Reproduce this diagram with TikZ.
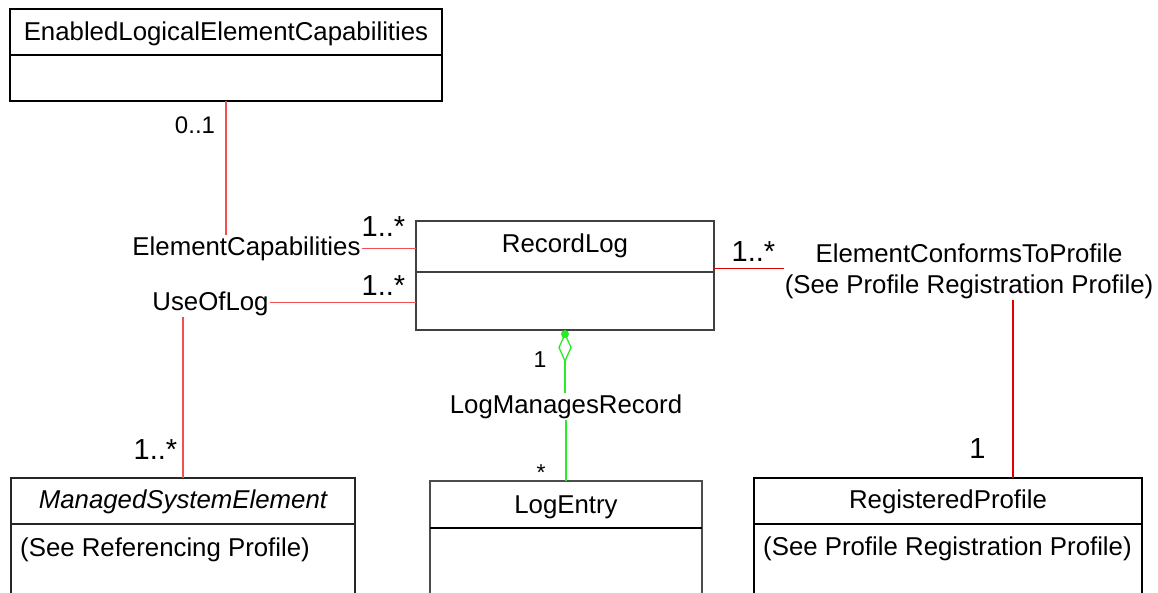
\documentclass[tikz,border=0pt]{standalone}
\usepackage{fontspec}
\setmainfont{Liberation Sans}
\definecolor{redA}{RGB}{240,80,80}
\definecolor{redB}{RGB}{225,0,0}
\definecolor{lgreen}{RGB}{40,235,40}
\begin{document}
\begin{tikzpicture}[x=1pt,y=-1pt,
  cls/.style={draw=#1, line width=1.2pt, anchor=north west, inner sep=0pt, outer sep=0pt},
  cls/.default=black,
  txt/.style={font=\fontsize{25.8}{31}\selectfont, inner sep=1pt, anchor=base},
  mult/.style={font=\fontsize{29}{34}\selectfont, inner sep=1pt, anchor=base},
  multsm/.style={font=\fontsize{24}{29}\selectfont, inner sep=1pt, anchor=base},
  multxs/.style={font=\fontsize{23}{27}\selectfont, inner sep=1pt, anchor=base},
  assocA/.style={draw=redA, line width=1.4pt},
  assocB/.style={draw=redB, line width=1.4pt},
  aggr/.style={draw=lgreen, line width=1.3pt}]
\useasboundingbox (0,0) rectangle (1158,592);
\clip (0,0) rectangle (1158,592);
\fill[white] (0,0) rectangle (1158,592);

% class boxes
\node[cls, minimum width=432pt, minimum height=92pt] (elec) at (10,9) {};
\node[cls=black!75, minimum width=298pt, minimum height=109pt] (rlog) at (416,221) {};
\node[cls=black!85, minimum width=344pt, minimum height=160pt] (mse) at (11,478) {};
\node[cls=black!70, minimum width=272pt, minimum height=160pt] (lent) at (430,481) {};
\node[cls, minimum width=388pt, minimum height=160pt] (rprof) at (754,478) {};

% dividers
\draw[line width=1.2pt] (elec.west |- 0,55) -- (elec.east |- 0,55);
\draw[line width=1.2pt, black!75] (rlog.west |- 0,272) -- (rlog.east |- 0,272);
\draw[line width=1.2pt, black!85] (mse.west |- 0,524) -- (mse.east |- 0,524);
\draw[line width=1.2pt] (lent.west |- 0,528) -- (lent.east |- 0,528);
\draw[line width=1.2pt] (rprof.west |- 0,524) -- (rprof.east |- 0,524);

% class texts
\node[txt] (elecT) at (226,40) {EnabledLogicalElementCapabilities};
\node[txt] (rlogT) at (565,252) {RecordLog};
\node[txt] (mseT) at (183,508) {\itshape ManagedSystemElement};
\node[txt, anchor=base west] (mseA) at (19,556) {(See Referencing Profile)};
\node[txt] (lentT) at (566,513) {LogEntry};
\node[txt] (rprofT) at (948,508) {RegisteredProfile};
\node[txt, anchor=base west] (rprofA) at (762,555) {(See Profile Registration Profile)};

% association labels
\node[txt] (ecap) at (246.5,255) {ElementCapabilities};
\node[txt] (uol) at (210.5,310) {UseOfLog};
\node[txt] (ectp1) at (969,262) {ElementConformsToProfile};
\node[txt] (ectp2) at (969,293) {(See Profile Registration Profile)};
\node[txt] (lmr) at (566,413) {LogManagesRecord};

% multiplicities
\node[multsm] (m01) at (195,133) {0..1};
\node[mult] (m1a) at (383.5,236) {1..*};
\node[mult] (m1b) at (383.5,295) {1..*};
\node[mult] (m1c) at (753.5,261) {1..*};
\node[mult] (m1d) at (155.5,459) {1..*};
\node[mult] (m1e) at (977.5,458) {1};
\node[multxs] (m1f) at (540,367) {1};
\node[multxs] (m1g) at (541,480) {*};

% connectors
\coordinate (rpa) at ([xshift=65pt]rprof.north);
\draw[assocA] (elec.south) -- (elec.south |- ecap.north);
\draw[assocA] (ecap.east |- 0,248.5) -- (rlog.west |- 0,248.5);
\draw[assocA] (uol.east |- 0,302.5) -- (rlog.west |- 0,302.5);
\draw[assocA] (uol.south -| mse.north) -- (mse.north);
\draw[assocB] (rlog.east |- 0,268.5) -- (ectp2.west |- 0,268.5);
\draw[assocB] (ectp2.south -| rpa) -- (rpa);

% aggregation
\coordinate (dtop) at ([yshift=-4pt]rlog.south);
\draw[aggr, fill=white] (dtop) -- ++(6,13.5) coordinate (dr) -- ++(-6,13.5) coordinate (dbot) -- ++(-6,-13.5) -- cycle;
\fill[lgreen] (dtop) circle (4pt);
\draw[aggr] (dbot) -- (dbot |- lmr.north);
\draw[aggr] (lmr.south) -- (lent.north);
\end{tikzpicture}
\end{document}
